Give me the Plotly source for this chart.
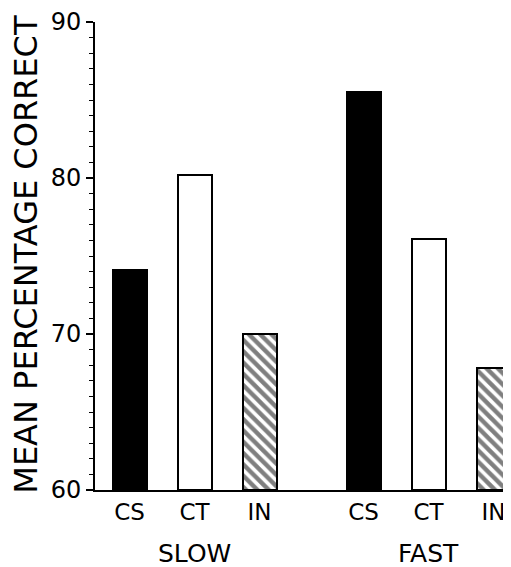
import plotly.graph_objects as go

conditions = ["CS", "CT", "IN"]
groups = ["SLOW", "FAST"]
slow_values = [74.1, 80.2, 70.0]
fast_values = [85.5, 76.1, 67.8]
x_slow = [0, 1, 2]
x_fast = [3.6, 4.6, 5.6]
y_ticks = [60, 70, 80, 90]

fills = ["black", "white", "white"]
patterns = ["", "", "\\"]

FONT = "DejaVu Sans"

fig = go.Figure()
for i, cond in enumerate(conditions):
    vals = [slow_values[i], fast_values[i]]
    marker = dict(color=fills[i], line=dict(color="black", width=2))
    if patterns[i]:
        marker["pattern"] = dict(shape=patterns[i], fgcolor="black", bgcolor="white",
                                 size=8, solidity=0.55, fillmode="overlay")
    fig.add_trace(go.Bar(
        x=[x_slow[i], x_fast[i]], y=[v - 60 for v in vals], base=60,
        width=0.523, marker=marker, name=cond, showlegend=False,
    ))

fig.update_layout(
    width=503, height=559,
    margin=dict(l=87, r=0, t=9, b=77),
    plot_bgcolor="white", paper_bgcolor="white",
    bargap=0, barmode="overlay",
    font=dict(family=FONT, color="black"),
)
fig.update_xaxes(
    range=[-0.531, 5.869],
    tickvals=x_slow + x_fast,
    ticktext=conditions + conditions,
    tickfont=dict(size=23, family=FONT),
    showline=True, linecolor="black", linewidth=2,
    ticks="", showgrid=False, zeroline=False,
    ticklabelstandoff=0, ticklabeloverflow="allow",
)
fig.update_yaxes(
    range=[60, 90],
    tickvals=y_ticks,
    tickfont=dict(size=24, family=FONT),
    showline=True, linecolor="black", linewidth=2,
    ticks="outside", ticklen=7, tickwidth=1.5, tickcolor="black",
    minor=dict(dtick=1, ticks="outside", ticklen=4, tickwidth=1, tickcolor="black"),
    showgrid=False, zeroline=False, ticklabeloverflow="allow",
)

fig.add_annotation(
    text="MEAN PERCENTAGE CORRECT", textangle=-90,
    xref="paper", yref="paper", x=-0.168, y=0.503,
    xanchor="center", yanchor="middle", showarrow=False,
    font=dict(size=32, family=FONT, color="black"),
)
for g, xs in zip(groups, [x_slow, x_fast]):
    fig.add_annotation(
        text=g, xref="x", yref="paper", x=xs[1], y=-0.135,
        xanchor="center", yanchor="middle", showarrow=False,
        font=dict(size=25, family=FONT, color="black"),
    )

fig.write_html("out.html")
